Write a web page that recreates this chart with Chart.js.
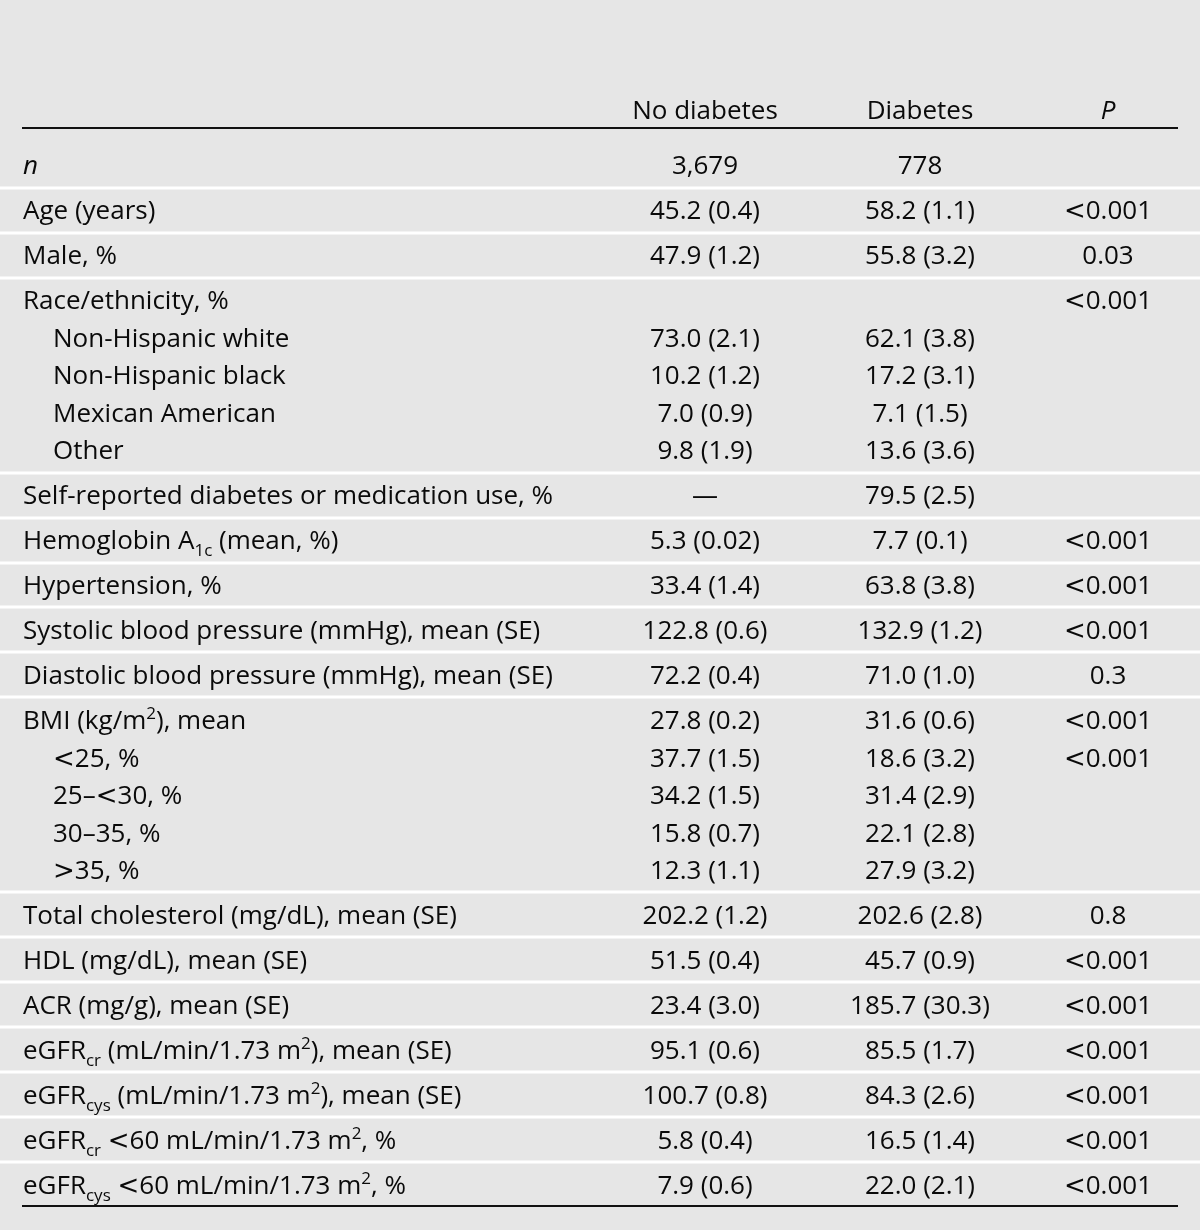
<!DOCTYPE html>
<html>
<head>
<meta charset="utf-8">
<script src="https://cdn.jsdelivr.net/npm/chart.js@4.4.1/dist/chart.umd.min.js"></script>
<style>
  html, body { margin: 0; padding: 0; background: #e6e6e6; }
  #wrap { width: 1200px; height: 1230px; }
</style>
</head>
<body>
<div id="wrap"><canvas id="tabla" width="1200" height="1230"></canvas></div>
<script>
// Encabezados de columna (*...* = cursiva)
const columnHeaders = ['', 'No diabetes', 'Diabetes', '*P*'];

// Filas de la tabla (_{..} = subíndice, ^{..} = superíndice)
const rowLabels = [
  '*n*',
  'Age (years)',
  'Male, %',
  'Race/ethnicity, %',
  'Non-Hispanic white',
  'Non-Hispanic black',
  'Mexican American',
  'Other',
  'Self-reported diabetes or medication use, %',
  'Hemoglobin A_{1c} (mean, %)',
  'Hypertension, %',
  'Systolic blood pressure (mmHg), mean (SE)',
  'Diastolic blood pressure (mmHg), mean (SE)',
  'BMI (kg/m^{2}), mean',
  '<25, %',
  '25–<30, %',
  '30–35, %',
  '>35, %',
  'Total cholesterol (mg/dL), mean (SE)',
  'HDL (mg/dL), mean (SE)',
  'ACR (mg/g), mean (SE)',
  'eGFR_{cr} (mL/min/1.73 m^{2}), mean (SE)',
  'eGFR_{cys} (mL/min/1.73 m^{2}), mean (SE)',
  'eGFR_{cr} <60 mL/min/1.73 m^{2}, %',
  'eGFR_{cys} <60 mL/min/1.73 m^{2}, %'
];

// 1 = fila secundaria (sangrada, dentro del grupo anterior)
const rowIndent = [0, 0, 0, 0, 1, 1, 1, 1, 0, 0, 0, 0, 0, 0, 1, 1, 1, 1, 0, 0, 0, 0, 0, 0, 0];

const noDiabetes = [
  '3,679', '45.2 (0.4)', '47.9 (1.2)', '', '73.0 (2.1)', '10.2 (1.2)', '7.0 (0.9)', '9.8 (1.9)',
  '—', '5.3 (0.02)', '33.4 (1.4)', '122.8 (0.6)', '72.2 (0.4)', '27.8 (0.2)',
  '37.7 (1.5)', '34.2 (1.5)', '15.8 (0.7)', '12.3 (1.1)', '202.2 (1.2)', '51.5 (0.4)',
  '23.4 (3.0)', '95.1 (0.6)', '100.7 (0.8)', '5.8 (0.4)', '7.9 (0.6)'
];

const diabetes = [
  '778', '58.2 (1.1)', '55.8 (3.2)', '', '62.1 (3.8)', '17.2 (3.1)', '7.1 (1.5)', '13.6 (3.6)',
  '79.5 (2.5)', '7.7 (0.1)', '63.8 (3.8)', '132.9 (1.2)', '71.0 (1.0)', '31.6 (0.6)',
  '18.6 (3.2)', '31.4 (2.9)', '22.1 (2.8)', '27.9 (3.2)', '202.6 (2.8)', '45.7 (0.9)',
  '185.7 (30.3)', '85.5 (1.7)', '84.3 (2.6)', '16.5 (1.4)', '22.0 (2.1)'
];

const pValues = [
  '', '<0.001', '0.03', '<0.001', '', '', '', '', '', '<0.001', '<0.001', '<0.001', '0.3',
  '<0.001', '<0.001', '', '', '', '0.8', '<0.001', '<0.001', '<0.001', '<0.001', '<0.001', '<0.001'
];

document.addEventListener('DOMContentLoaded', () => {
  const FONT = '"Open Sans", Lato, sans-serif';
  const SYM_FONT = '"DejaVu Sans", sans-serif';
  const SIZE = 26;
  const INK = '#0a0a0a';

  // Posición vertical de cada fila en "líneas": 1 por subfila, 1.2 por grupo nuevo
  const FIRST_ROW = 4.4;
  const rowY = [];
  rowLabels.forEach((_, i) => {
    if (i === 0) rowY.push(FIRST_ROW);
    else rowY.push(rowY[i - 1] + (rowIndent[i] ? 1 : 1.2));
  });
  const headerY = FIRST_ROW - 1.47;
  const topRuleY = FIRST_ROW - 0.99;
  const bottomRuleY = rowY[rowY.length - 1] + 0.57;

  // Columnas en el eje x (0..12)
  const colX = [0.23, 7.05, 9.2, 11.08];
  const indentX = 0.30;
  const ruleX = [0.22, 11.78];

  // Divide el texto en segmentos normales, subíndices, superíndices, cursivas y símbolos < >
  function parseRich(text) {
    const segs = [];
    const re = /_\{([^}]*)\}|\^\{([^}]*)\}|\*([^*]*)\*|([<>])|([^_^*<>]+)/g;
    let m;
    while ((m = re.exec(text)) !== null) {
      if (m[1] !== undefined) segs.push({ t: m[1], kind: 'sub' });
      else if (m[2] !== undefined) segs.push({ t: m[2], kind: 'sup' });
      else if (m[3] !== undefined) segs.push({ t: m[3], kind: 'it' });
      else if (m[4] !== undefined) segs.push({ t: m[4], kind: 'sym' });
      else segs.push({ t: m[5], kind: 'n' });
    }
    return segs;
  }

  function segFont(kind) {
    if (kind === 'sub' || kind === 'sup') return `${Math.round(SIZE * 0.66)}px ${FONT}`;
    if (kind === 'it') return `italic ${SIZE}px ${FONT}`;
    if (kind === 'sym') return `${SIZE}px ${SYM_FONT}`;
    return `${SIZE}px ${FONT}`;
  }

  function drawRich(ctx, text, x, yMid, align) {
    const segs = parseRich(text);
    let width = 0;
    segs.forEach(s => { ctx.font = segFont(s.kind); s.w = ctx.measureText(s.t).width; width += s.w; });
    let cx = align === 'center' ? x - width / 2 : x;
    const base = yMid + SIZE * 0.35;
    segs.forEach(s => {
      ctx.font = segFont(s.kind);
      let dy = 0;
      if (s.kind === 'sub') dy = SIZE * 0.25;
      if (s.kind === 'sup') dy = -SIZE * 0.38;
      ctx.fillText(s.t, cx, base + dy);
      cx += s.w;
    });
  }

  const tablePlugin = {
    id: 'tablePlugin',
    beforeDraw(chart) {
      const { ctx, width } = chart;
      const xs = chart.scales.x, ys = chart.scales.y;
      ctx.save();
      ctx.fillStyle = '#e6e6e6';
      ctx.fillRect(0, 0, width, chart.height);

      // Separadores blancos entre grupos
      ctx.fillStyle = '#ffffff';
      rowLabels.forEach((_, i) => {
        if (i === 0 || rowIndent[i]) return;
        const y = ys.getPixelForValue(rowY[i] - 0.6);
        ctx.fillRect(0, Math.round(y) - 1.5, width, 3);
      });

      // Reglas negras superior e inferior
      ctx.strokeStyle = '#111111';
      ctx.lineWidth = 2;
      [topRuleY, bottomRuleY].forEach(v => {
        const y = Math.round(ys.getPixelForValue(v));
        ctx.beginPath();
        ctx.moveTo(xs.getPixelForValue(ruleX[0]), y);
        ctx.lineTo(xs.getPixelForValue(ruleX[1]), y);
        ctx.stroke();
      });
      ctx.restore();
    },
    afterDraw(chart) {
      const { ctx } = chart;
      const xs = chart.scales.x, ys = chart.scales.y;
      ctx.save();
      ctx.fillStyle = INK;
      ctx.textBaseline = 'alphabetic';
      ctx.textAlign = 'left';

      // Encabezados
      columnHeaders.forEach((h, c) => {
        if (!h) return;
        drawRich(ctx, h, xs.getPixelForValue(colX[c]), ys.getPixelForValue(headerY), 'center');
      });

      // Celdas
      rowLabels.forEach((label, i) => {
        const y = ys.getPixelForValue(rowY[i]);
        const lx = colX[0] + (rowIndent[i] ? indentX : 0);
        drawRich(ctx, label, xs.getPixelForValue(lx), y, 'left');
        [noDiabetes, diabetes, pValues].forEach((col, c) => {
          if (col[i]) drawRich(ctx, col[i], xs.getPixelForValue(colX[c + 1]), y, 'center');
        });
      });
      ctx.restore();
    }
  };

  new Chart(document.getElementById('tabla'), {
    type: 'scatter',
    data: { datasets: [] },
    options: {
      responsive: false,
      animation: false,
      events: [],
      layout: { padding: 0 },
      plugins: { legend: { display: false }, tooltip: { enabled: false } },
      scales: {
        x: { type: 'linear', min: 0, max: 12, display: false },
        y: { type: 'linear', min: 0, max: 32.8, reverse: true, display: false }
      }
    },
    plugins: [tablePlugin]
  });
});
</script>
</body>
</html>
